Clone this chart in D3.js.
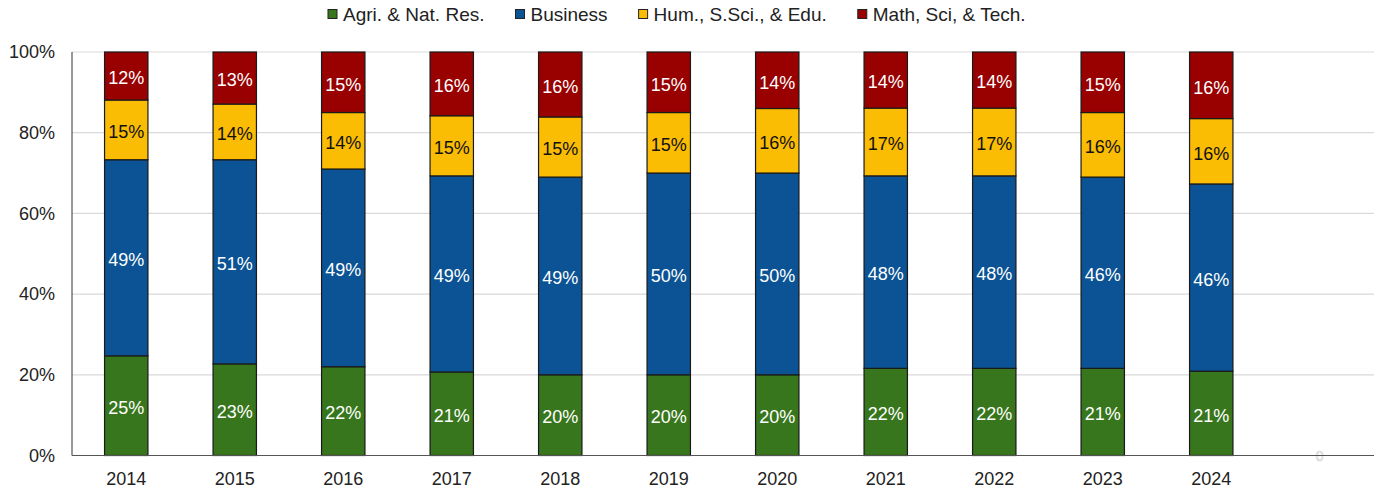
<!DOCTYPE html>
<html><head><meta charset="utf-8">
<script src="https://cdn.jsdelivr.net/npm/d3@7"></script>
<style>body{margin:0;background:#fff}svg{display:block;font-family:"Liberation Sans",Arial,sans-serif}</style>
</head><body><svg id="c" width="1382" height="490"></svg>
<script>
const years = ["2014","2015","2016","2017","2018","2019","2020","2021","2022","2023","2024"];
const seriesNames = ["Agri. & Nat. Res.","Business","Hum., S.Sci., & Edu.","Math, Sci, & Tech."];
const agri = [24.7,22.7,22.0,20.7,20.0,20.0,20.0,21.6,21.6,21.6,20.9];
const business = [48.6,50.6,49.0,48.6,49.0,50.0,50.0,47.7,47.7,47.4,46.4];
const humanities = [14.8,13.8,14.0,14.9,14.9,15.0,16.0,16.8,16.8,16.0,16.2];
const mathSci = [11.9,12.9,15.0,15.8,16.1,15.0,14.0,13.9,13.9,15.0,16.5];
const agriLabels = ["25%","23%","22%","21%","20%","20%","20%","22%","22%","21%","21%"];
const businessLabels = ["49%","51%","49%","49%","49%","50%","50%","48%","48%","46%","46%"];
const humLabels = ["15%","14%","14%","15%","15%","15%","16%","17%","17%","16%","16%"];
const mathLabels = ["12%","13%","15%","16%","16%","15%","14%","14%","14%","15%","16%"];
const yTicks = [0,20,40,60,80,100];
const colors = ["#38761d","#0b5394","#fbbc04","#990000"];
const labelColors = ["#ffffff","#ffffff","#111111","#ffffff"];

const svg = d3.select("#c");
const mLeft = 72, mRight = 1374, mTop = 52, mBottom = 455.5;
const slots = [...years, "__empty"];
const x = d3.scaleBand().domain(slots).range([mLeft, mRight]).paddingInner(0.6).paddingOuter(0.3);
const y = d3.scaleLinear().domain([0, 100]).range([mBottom, mTop]);

// gridlines
svg.append("g").selectAll("line").data(yTicks.filter(t => t > 0)).join("line")
  .attr("x1", mLeft).attr("x2", mRight)
  .attr("y1", d => y(d)).attr("y2", d => y(d))
  .attr("stroke", "#d9d9d9").attr("stroke-width", 1.2);

// y tick labels
svg.append("g").selectAll("text").data(yTicks).join("text")
  .attr("x", 55).attr("y", d => y(d)).attr("dy", "0.35em")
  .attr("text-anchor", "end").attr("font-size", 18).attr("fill", "#222")
  .text(d => d + "%");

// stacked data
const table = years.map((yr, i) => ({year: yr, s0: agri[i], s1: business[i], s2: humanities[i], s3: mathSci[i],
  l0: agriLabels[i], l1: businessLabels[i], l2: humLabels[i], l3: mathLabels[i]}));
const stack = d3.stack().keys(["s0","s1","s2","s3"])(table);

const g = svg.append("g");
stack.forEach((layer, k) => {
  g.append("g").selectAll("rect").data(layer).join("rect")
    .attr("x", d => x(d.data.year)).attr("width", x.bandwidth())
    .attr("y", d => y(d[1])).attr("height", d => y(d[0]) - y(d[1]))
    .attr("fill", colors[k]).attr("stroke", "#1a1a1a").attr("stroke-width", 1.2);
});
stack.forEach((layer, k) => {
  g.append("g").selectAll("text").data(layer).join("text")
    .attr("x", d => x(d.data.year) + x.bandwidth() / 2)
    .attr("y", d => (y(d[0]) + y(d[1])) / 2 + 2)
    .attr("dy", "0.35em").attr("text-anchor", "middle")
    .attr("font-size", 18).attr("fill", labelColors[k])
    .text(d => d.data["l" + k]);
});

// faint zero label in empty slot
svg.append("text").attr("x", x("__empty") + x.bandwidth() / 2).attr("y", mBottom + 1).attr("dy", "0.35em")
  .attr("text-anchor", "middle").attr("font-size", 14).attr("fill", "#fff")
  .attr("stroke", "#d0d0d0").attr("stroke-width", 0.6).text("0");

// axes lines
svg.append("line").attr("x1", mLeft).attr("x2", mLeft).attr("y1", mTop).attr("y2", mBottom)
  .attr("stroke", "#333").attr("stroke-width", 1);
svg.append("line").attr("x1", mLeft).attr("x2", mRight).attr("y1", mBottom).attr("y2", mBottom)
  .attr("stroke", "#555").attr("stroke-width", 1.2);

// x labels
svg.append("g").selectAll("text").data(years).join("text")
  .attr("x", d => x(d) + x.bandwidth() / 2).attr("y", 485)
  .attr("text-anchor", "middle").attr("font-size", 18).attr("fill", "#222")
  .text(d => d);

// legend
const leg = svg.append("g");
let lx = 328;
seriesNames.forEach((name, k) => {
  leg.append("rect").attr("x", lx).attr("y", 9.5).attr("width", 9).attr("height", 9)
    .attr("fill", colors[k]).attr("stroke", "#222").attr("stroke-width", 1);
  const t = leg.append("text").attr("x", lx + 15).attr("y", 14).attr("dy", "0.35em")
    .attr("font-size", 19).attr("fill", "#222").text(name);
  lx += 15 + t.node().getComputedTextLength() + 31;
});
</script></body></html>
